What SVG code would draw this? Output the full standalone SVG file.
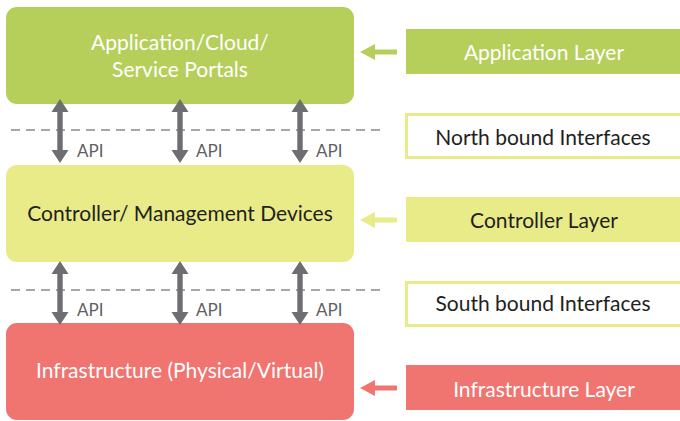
<svg xmlns="http://www.w3.org/2000/svg" width="680" height="421" viewBox="0 0 680 421">
  <style>
    text { font-family: "Lato", "Liberation Sans", sans-serif; }
    .box-label { font-size: 21px; text-anchor: middle; }
    .side-label { font-size: 21px; text-anchor: middle; }
    .api { font-size: 17px; fill: #5f6063; }
    .white { fill: #ffffff; }
    .dark { fill: #231f20; }
    .dash { stroke: #8a8a8a; stroke-width: 1.5; stroke-dasharray: 9 6; fill: none; }
    .biarrow { fill: #6d6e71; }
  </style>
  <defs>
    <!-- vertical double-headed arrow, centred on x=0 -->
    <path id="dbl" d="M0,0 L8.5,13 L2.7,13 L2.7,51 L8.5,51 L0,64 L-8.5,51 L-2.7,51 L-2.7,13 L-8.5,13 Z"/>
    <!-- small left-pointing arrow -->
    <path id="left" d="M0,0 L15,-8 L15,-2.5 L37,-2.5 L37,2.5 L15,2.5 L15,8 Z"/>
  </defs>

  <!-- layer boxes -->
  <g id="app-box">
    <rect x="6" y="7" width="348" height="97" rx="11" fill="#b5cf5a"/>
    <text class="box-label white" x="180" y="50">Application/Cloud/</text>
    <text class="box-label white" x="180" y="77">Service Portals</text>
  </g>
  <g id="controller-box">
    <rect x="6" y="165" width="348" height="97" rx="11" fill="#e8eb87"/>
    <text class="box-label dark" x="180" y="221">Controller/ Management Devices</text>
  </g>
  <g id="infra-box">
    <rect x="6" y="323" width="348" height="97" rx="11" fill="#f07470"/>
    <text class="box-label white" x="180" y="378">Infrastructure (Physical/Virtual)</text>
  </g>

  <!-- side labels -->
  <g id="app-layer">
    <rect x="406" y="29" width="274" height="45" fill="#b5cf5a"/>
    <text class="side-label white" x="544" y="60">Application Layer</text>
  </g>
  <g id="northbound">
    <rect x="406.5" y="114.5" width="280" height="43" fill="#ffffff" stroke="#e8eb87" stroke-width="3"/>
    <text class="side-label dark" x="543" y="145">North bound Interfaces</text>
  </g>
  <g id="controller-layer">
    <rect x="406" y="197" width="274" height="45" fill="#e8eb87"/>
    <text class="side-label dark" x="544" y="228">Controller Layer</text>
  </g>
  <g id="southbound">
    <rect x="406.5" y="282.5" width="280" height="43" fill="#ffffff" stroke="#e8eb87" stroke-width="3"/>
    <text class="side-label dark" x="543" y="311">South bound Interfaces</text>
  </g>
  <g id="infra-layer">
    <rect x="406" y="365" width="274" height="45" fill="#f07470"/>
    <text class="side-label white" x="544" y="397">Infrastructure Layer</text>
  </g>

  <!-- connectors -->
  <g id="connectors">
    <line class="dash" x1="11" y1="130" x2="384" y2="130"/>
    <line class="dash" x1="11" y1="290" x2="384" y2="290"/>

    <use href="#dbl" class="biarrow" x="60" y="99"/>
    <use href="#dbl" class="biarrow" x="180" y="99"/>
    <use href="#dbl" class="biarrow" x="300" y="99"/>
    <use href="#dbl" class="biarrow" x="60" y="261"/>
    <use href="#dbl" class="biarrow" x="180" y="261"/>
    <use href="#dbl" class="biarrow" x="300" y="261"/>

    <text class="api" x="77" y="157">API</text>
    <text class="api" x="196" y="157">API</text>
    <text class="api" x="316" y="157">API</text>
    <text class="api" x="77" y="316">API</text>
    <text class="api" x="196" y="316">API</text>
    <text class="api" x="316" y="316">API</text>

    <use href="#left" x="360" y="52" fill="#b5cf5a"/>
    <use href="#left" x="360" y="220" fill="#e8eb87"/>
    <use href="#left" x="360" y="388" fill="#f07470"/>
  </g>
</svg>
